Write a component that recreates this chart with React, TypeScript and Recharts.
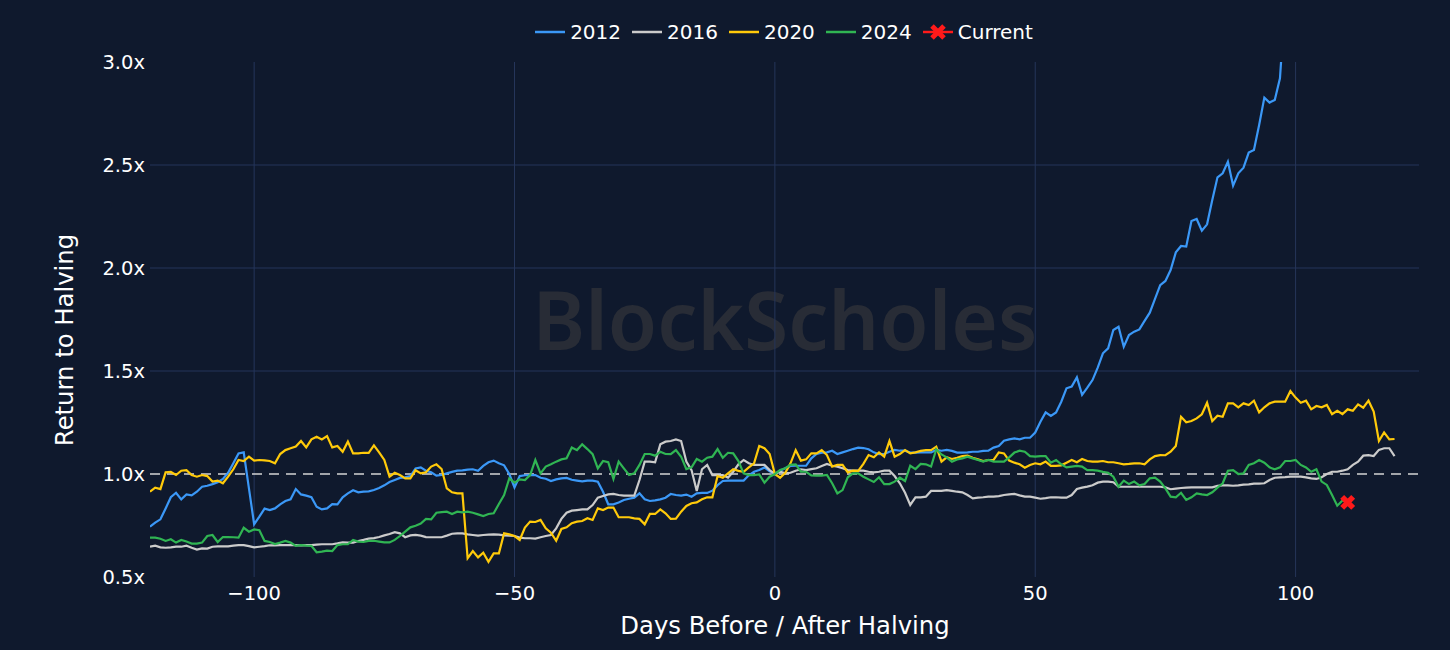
import React from "react";
import {
  ComposedChart,
  Line,
  Scatter,
  XAxis,
  YAxis,
  CartesianGrid,
  ReferenceLine,
  Label,
} from "recharts";

// days run from -120 (first value) one per day
const START_DAY = -120;
const X_TICKS = [-100, -50, 0, 50, 100];
const Y_TICKS = [0.5, 1, 1.5, 2, 2.5, 3];

const R2012 = [
  0.744, 0.764, 0.78, 0.833, 0.887, 0.909, 0.877, 0.901, 0.896, 0.914,
  0.938, 0.943, 0.951, 0.96, 0.976, 1.006, 1.052, 1.1, 1.105, 0.93,
  0.756, 0.793, 0.832, 0.825, 0.833, 0.853, 0.869, 0.877, 0.927, 0.901,
  0.895, 0.887, 0.841, 0.828, 0.833, 0.854, 0.853, 0.887, 0.906, 0.921,
  0.911, 0.914, 0.916, 0.922, 0.932, 0.945, 0.961, 0.971, 0.981, 0.984,
  0.99, 1.027, 1.032, 1.016, 1.008, 0.992, 0.995, 1.003, 1.01, 1.016,
  1.018, 1.021, 1.023, 1.016, 1.039, 1.057, 1.065, 1.052, 1.042, 1.0,
  0.935, 0.99, 0.994, 0.995, 0.995, 0.982, 0.977, 0.966, 0.974, 0.979,
  0.981, 0.972, 0.968, 0.964, 0.968, 0.968, 0.963, 0.914, 0.853, 0.853,
  0.862, 0.874, 0.88, 0.885, 0.906, 0.877, 0.869, 0.872, 0.877, 0.885,
  0.903, 0.898, 0.895, 0.9, 0.89, 0.906, 0.908, 0.908, 0.919, 0.946,
  0.966, 0.968, 0.968, 0.968, 0.968, 0.994, 1.011, 1.019, 1.032, 1.013,
  1.0,
  1.016, 1.028, 1.039, 1.04, 1.04, 1.04, 1.076, 1.097, 1.104, 1.105,
  1.113, 1.097, 1.105, 1.113, 1.121, 1.128, 1.126, 1.12, 1.105, 1.096,
  1.097, 1.108, 1.117, 1.113, 1.113, 1.104, 1.104, 1.105, 1.105, 1.105,
  1.117, 1.113, 1.117, 1.112, 1.104, 1.104, 1.105, 1.108, 1.108, 1.112,
  1.113, 1.128, 1.136, 1.162, 1.168, 1.173, 1.168, 1.176, 1.176, 1.201,
  1.254, 1.299, 1.282, 1.299, 1.351,
  1.416, 1.424, 1.469, 1.384, 1.419, 1.456, 1.516, 1.586, 1.61, 1.699,
  1.715, 1.618, 1.675, 1.691, 1.702, 1.743, 1.783, 1.85, 1.917, 1.937,
  1.99, 2.076, 2.107, 2.104, 2.228, 2.238, 2.181, 2.212, 2.33, 2.44,
  2.46, 2.516, 2.4, 2.46, 2.487, 2.56, 2.573, 2.694, 2.827, 2.803,
  2.816, 2.921, 3.3,
];

const R2016 = [
  0.647, 0.652, 0.644, 0.642, 0.644, 0.647, 0.647, 0.652, 0.642, 0.633,
  0.639, 0.638, 0.647, 0.649, 0.649, 0.649, 0.652, 0.655, 0.655, 0.65,
  0.644, 0.647, 0.65, 0.654, 0.654, 0.655, 0.655, 0.655, 0.655, 0.654,
  0.655, 0.655, 0.657, 0.659, 0.659, 0.659, 0.663, 0.668, 0.667, 0.667,
  0.675, 0.68, 0.686, 0.689, 0.694, 0.702, 0.709, 0.718, 0.712, 0.693,
  0.702, 0.704, 0.701, 0.694, 0.693, 0.693, 0.693, 0.701, 0.71, 0.712,
  0.712, 0.707, 0.704, 0.701, 0.704, 0.706, 0.707, 0.706, 0.702, 0.701,
  0.699, 0.691, 0.688, 0.688, 0.686, 0.693, 0.699, 0.704, 0.736, 0.782,
  0.812, 0.822, 0.825, 0.828, 0.828, 0.849, 0.885, 0.893, 0.901, 0.903,
  0.898, 0.895, 0.895, 0.895, 0.971, 1.06, 1.06, 1.057, 1.144, 1.157,
  1.16, 1.168, 1.16, 1.06, 1.019, 0.918, 1.023, 1.044, 0.995, 0.995,
  0.995, 0.982, 1.011, 1.047, 1.068, 1.052, 1.044, 1.044, 1.044, 1.019,
  1.0,
  1.011, 1.003, 1.006, 1.016, 1.023, 1.019, 1.024, 1.028, 1.039, 1.049,
  1.04, 1.036, 1.028, 1.019, 1.016, 1.016, 1.016, 1.011, 1.008, 1.011,
  1.016, 1.016, 0.99, 0.955, 0.909, 0.85, 0.887, 0.887, 0.89, 0.918,
  0.918, 0.918, 0.922, 0.918, 0.914, 0.911, 0.898, 0.882, 0.885, 0.887,
  0.89, 0.89, 0.893, 0.898, 0.901, 0.903, 0.896, 0.89, 0.89, 0.885,
  0.88, 0.883, 0.887, 0.887, 0.885, 0.885, 0.898, 0.927, 0.934, 0.939,
  0.945,
  0.958, 0.963, 0.963, 0.96, 0.938, 0.938, 0.938, 0.938, 0.938, 0.938,
  0.938, 0.938, 0.938, 0.935, 0.926, 0.929, 0.932, 0.934, 0.935, 0.935,
  0.935, 0.935, 0.935, 0.942, 0.945, 0.945, 0.943, 0.945, 0.948, 0.95,
  0.953, 0.953, 0.955, 0.971, 0.982, 0.984, 0.985, 0.987, 0.987, 0.987,
  0.984, 0.979, 0.976, 0.984, 1.0, 1.011, 1.011, 1.016, 1.023, 1.044,
  1.06, 1.089, 1.092, 1.087, 1.117, 1.125, 1.125, 1.087,
];

const R2020 = [
  0.914, 0.934, 0.927, 1.008, 1.01, 0.995, 1.016, 1.019, 0.995, 0.987,
  0.995, 0.99, 0.963, 0.968, 0.955, 0.987, 1.023, 1.068, 1.063, 1.084,
  1.065, 1.068, 1.066, 1.063, 1.052, 1.097, 1.116, 1.125, 1.133, 1.16,
  1.129, 1.168, 1.181, 1.168, 1.184, 1.129, 1.136, 1.108, 1.157, 1.1,
  1.1, 1.103, 1.103, 1.139, 1.105, 1.068, 0.987, 1.006, 0.995, 0.979,
  0.979, 1.018, 1.003, 1.008, 1.036, 1.047, 1.024, 0.93, 0.911, 0.906,
  0.906, 0.591, 0.626, 0.595, 0.618, 0.574, 0.615, 0.615, 0.712, 0.707,
  0.699, 0.68, 0.74, 0.769, 0.767, 0.777, 0.736, 0.715, 0.676, 0.733,
  0.741, 0.761, 0.769, 0.772, 0.785, 0.777, 0.833, 0.825, 0.837, 0.837,
  0.79, 0.79, 0.79, 0.785, 0.782, 0.756, 0.806, 0.806, 0.828, 0.809,
  0.782, 0.783, 0.817, 0.845, 0.858, 0.862, 0.877, 0.887, 0.887, 0.99,
  0.982, 1.003, 1.023, 1.015, 1.011, 1.032, 1.052, 1.136, 1.125, 1.097,
  1.0,
  0.982, 1.006, 1.052, 1.116, 1.065, 1.071, 1.1, 1.1, 1.116, 1.092,
  1.036, 1.044, 1.044, 1.008, 1.016, 1.015, 1.049, 1.092, 1.081, 1.105,
  1.084, 1.16, 1.084, 1.097, 1.116, 1.1, 1.105, 1.112, 1.116, 1.116,
  1.133, 1.06, 1.081, 1.073, 1.079, 1.087, 1.089, 1.079, 1.071, 1.063,
  1.068, 1.068, 1.105, 1.1, 1.065, 1.055, 1.047, 1.031, 1.044, 1.052,
  1.047, 1.06, 1.039, 1.039, 1.042, 1.055, 1.068, 1.057, 1.073,
  1.063, 1.06, 1.06, 1.063, 1.057, 1.057, 1.052, 1.047, 1.049, 1.052,
  1.052, 1.047, 1.071, 1.087, 1.092, 1.091, 1.108, 1.136, 1.278, 1.251,
  1.257, 1.27, 1.29, 1.346, 1.257, 1.283, 1.278, 1.343, 1.343, 1.324,
  1.343, 1.335, 1.356, 1.299, 1.324, 1.343, 1.351, 1.351, 1.351, 1.403,
  1.371, 1.346, 1.356, 1.314, 1.33, 1.324, 1.335, 1.29, 1.307, 1.291,
  1.314, 1.307, 1.338, 1.322, 1.356, 1.303, 1.16, 1.202, 1.168, 1.17,
];

const R2024 = [
  0.691, 0.691, 0.686, 0.675, 0.683, 0.667, 0.68, 0.672, 0.662, 0.662,
  0.667, 0.699, 0.704, 0.67, 0.694, 0.694, 0.693, 0.691, 0.739, 0.72,
  0.731, 0.727, 0.675, 0.67, 0.66, 0.667, 0.675, 0.667, 0.651, 0.655,
  0.652, 0.651, 0.62, 0.623, 0.628, 0.626, 0.655, 0.659, 0.659, 0.68,
  0.672, 0.67, 0.675, 0.676, 0.672, 0.668, 0.668, 0.68, 0.699, 0.72,
  0.741, 0.749, 0.759, 0.782, 0.78, 0.812, 0.815, 0.817, 0.806, 0.817,
  0.814, 0.817, 0.812, 0.804, 0.796, 0.806, 0.809, 0.854, 0.898, 0.979,
  0.958, 0.974, 0.971, 0.995, 1.068, 1.003, 1.036, 1.047, 1.06, 1.071,
  1.076, 1.129, 1.116, 1.144, 1.121, 1.096, 1.027, 1.063, 1.057, 0.976,
  1.06, 1.027, 0.995, 1.003, 1.044, 1.097, 1.097, 1.089, 1.108, 1.097,
  1.096, 1.116, 1.084, 1.024, 1.032, 1.073, 1.06, 1.079, 1.084, 1.121,
  1.079, 1.103, 1.1, 1.063, 1.003, 0.995, 0.995, 0.998, 0.958, 0.987,
  1.0,
  1.019, 1.028, 1.044, 1.047, 1.011, 1.011, 0.993, 0.992, 0.992, 0.995,
  0.955, 0.906, 0.922, 0.984, 1.003, 1.003, 0.987, 0.974, 0.961, 0.984,
  0.951, 0.951, 0.963, 0.982, 0.966, 1.04, 1.024, 1.049, 1.047, 1.036,
  1.12, 1.095, 1.081, 1.06, 1.071, 1.076, 1.084, 1.076, 1.068, 1.06,
  1.068, 1.06, 1.06, 1.06, 1.081, 1.104, 1.113, 1.108, 1.087, 1.084,
  1.087, 1.087, 1.055, 1.068, 1.047, 1.032, 1.036, 1.039, 1.036,
  1.019, 1.019, 1.016, 1.01, 1.006, 0.987, 0.938, 0.968, 0.951, 0.963,
  0.945, 0.951, 0.979, 0.982, 0.963, 0.93, 0.89, 0.887, 0.909, 0.874,
  0.887, 0.906, 0.901, 0.898, 0.911, 0.934, 0.955, 1.016, 1.019, 1.0,
  1.003, 1.044, 1.052, 1.068, 1.055, 1.032, 1.023, 1.032, 1.063, 1.063,
  1.068, 1.044, 1.032, 1.011, 1.023, 0.963, 0.947, 0.898, 0.846, 0.871,
  0.862,
];

const CURRENT = [{ day: 110, v: 0.862 }];

const SERIES = [
  { name: "2012", values: R2012, color: "#3b98f7" },
  { name: "2016", values: R2016, color: "#cbcbcb" },
  { name: "2020", values: R2020, color: "#ffca0a" },
  { name: "2024", values: R2024, color: "#30b553" },
];

const BG = "#0f192d";
const GRID = "#25355a";
const FONT = "'DejaVu Sans', Verdana, sans-serif";

const toPoints = (vals: number[]) => vals.map((v, i) => ({ day: START_DAY + i, v }));

const fmtDay = (d: number) => (d < 0 ? `\u2212${Math.abs(d)}` : `${d}`);
const fmtRet = (v: number) => `${v.toFixed(1)}x`;

function CrossMark(props: any) {
  const { cx, cy } = props;
  if (cx == null || cy == null) return null;
  const s = 5.5;
  return (
    <path
      d={`M${cx - s},${cy - s}L${cx + s},${cy + s}M${cx + s},${cy - s}L${cx - s},${cy + s}`}
      stroke="#ff1a1a"
      strokeWidth={5.5}
      fill="none"
    />
  );
}

function LegendRow() {
  const item = (label: string, color: string, cross = false) => (
    <div key={label} style={{ display: "flex", alignItems: "center", marginRight: 11 }}>
      <svg width={30} height={20} style={{ marginRight: 5 }}>
        <line x1={0} y1={10} x2={30} y2={10} stroke={color} strokeWidth={2.5} />
        {cross && (
          <path d="M9,4L21,16M21,4L9,16" stroke={color} strokeWidth={5} fill="none" />
        )}
      </svg>
      <span>{label}</span>
    </div>
  );
  return (
    <div
      style={{
        position: "absolute",
        left: 155,
        width: 1269,
        top: 20,
        display: "flex",
        justifyContent: "center",
        color: "#ffffff",
        fontFamily: FONT,
        fontSize: 20,
        lineHeight: "24px",
      }}
    >
      {SERIES.map((s) => item(s.name, s.color))}
      {item("Current", "#ff1a1a", true)}
    </div>
  );
}

export default function App() {
  return (
    <div
      style={{
        position: "fixed",
        left: 0,
        top: 0,
        width: 1450,
        height: 650,
        background: BG,
        overflow: "hidden",
      }}
    >
      <svg
        width={1450}
        height={650}
        style={{ position: "absolute", left: 0, top: 0 }}
      >
        <text
          x={785}
          y={350}
          textAnchor="middle"
          fill="#282c36"
          fontFamily="'Noto Sans', sans-serif"
          fontWeight={600}
          fontSize={82}
          textLength={505}
          lengthAdjust="spacingAndGlyphs"
        >
          BlockScholes
        </text>
      </svg>
      <div style={{ position: "absolute", left: 0, top: 0 }}>
        <ComposedChart
          width={1450}
          height={650}
          margin={{ top: 62, right: 31, bottom: 13, left: 0 }}
        >
          <CartesianGrid
            stroke={GRID}
            strokeWidth={1}
            horizontalValues={[1.5, 2, 2.5]}
            verticalValues={X_TICKS}
          />
          <XAxis
            type="number"
            dataKey="day"
            domain={[START_DAY, 123.7]}
            allowDataOverflow
            ticks={X_TICKS}
            tickFormatter={fmtDay}
            axisLine={false}
            tickLine={false}
            tickSize={6}
            tickMargin={3}
            height={60}
            tick={{ fill: "#ffffff", fontSize: 19.5, fontFamily: FONT }}
          >
            <Label
              content={() => (
                <text
                  x={785}
                  y={634}
                  textAnchor="middle"
                  fill="#ffffff"
                  fontSize={24.3}
                  fontFamily={FONT}
                >
                  Days Before / After Halving
                </text>
              )}
            />
          </XAxis>
          <YAxis
            type="number"
            domain={[0.5, 3]}
            allowDataOverflow
            ticks={Y_TICKS}
            tickFormatter={fmtRet}
            axisLine={false}
            tickLine={false}
            tickSize={5}
            tickMargin={0}
            width={150}
            tick={{ fill: "#ffffff", fontSize: 19.5, fontFamily: FONT }}
          >
            <Label
              content={() => (
                <text
                  transform="translate(73, 340) rotate(-90)"
                  textAnchor="middle"
                  fill="#ffffff"
                  fontSize={24.3}
                  fontFamily={FONT}
                >
                  Return to Halving
                </text>
              )}
            />
          </YAxis>
          <ReferenceLine
            y={1}
            stroke="#d4d4d4"
            strokeWidth={1.6}
            strokeDasharray="10 7"
          />
          {SERIES.map((s) => (
            <Line
              key={s.name}
              data={toPoints(s.values)}
              dataKey="v"
              name={s.name}
              type="linear"
              stroke={s.color}
              strokeWidth={2.2}
              dot={false}
              activeDot={false}
              isAnimationActive={false}
            />
          ))}
          <Scatter
            data={CURRENT}
            dataKey="v"
            name="Current"
            shape={<CrossMark />}
            isAnimationActive={false}
          />
        </ComposedChart>
      </div>
      <LegendRow />
    </div>
  );
}
